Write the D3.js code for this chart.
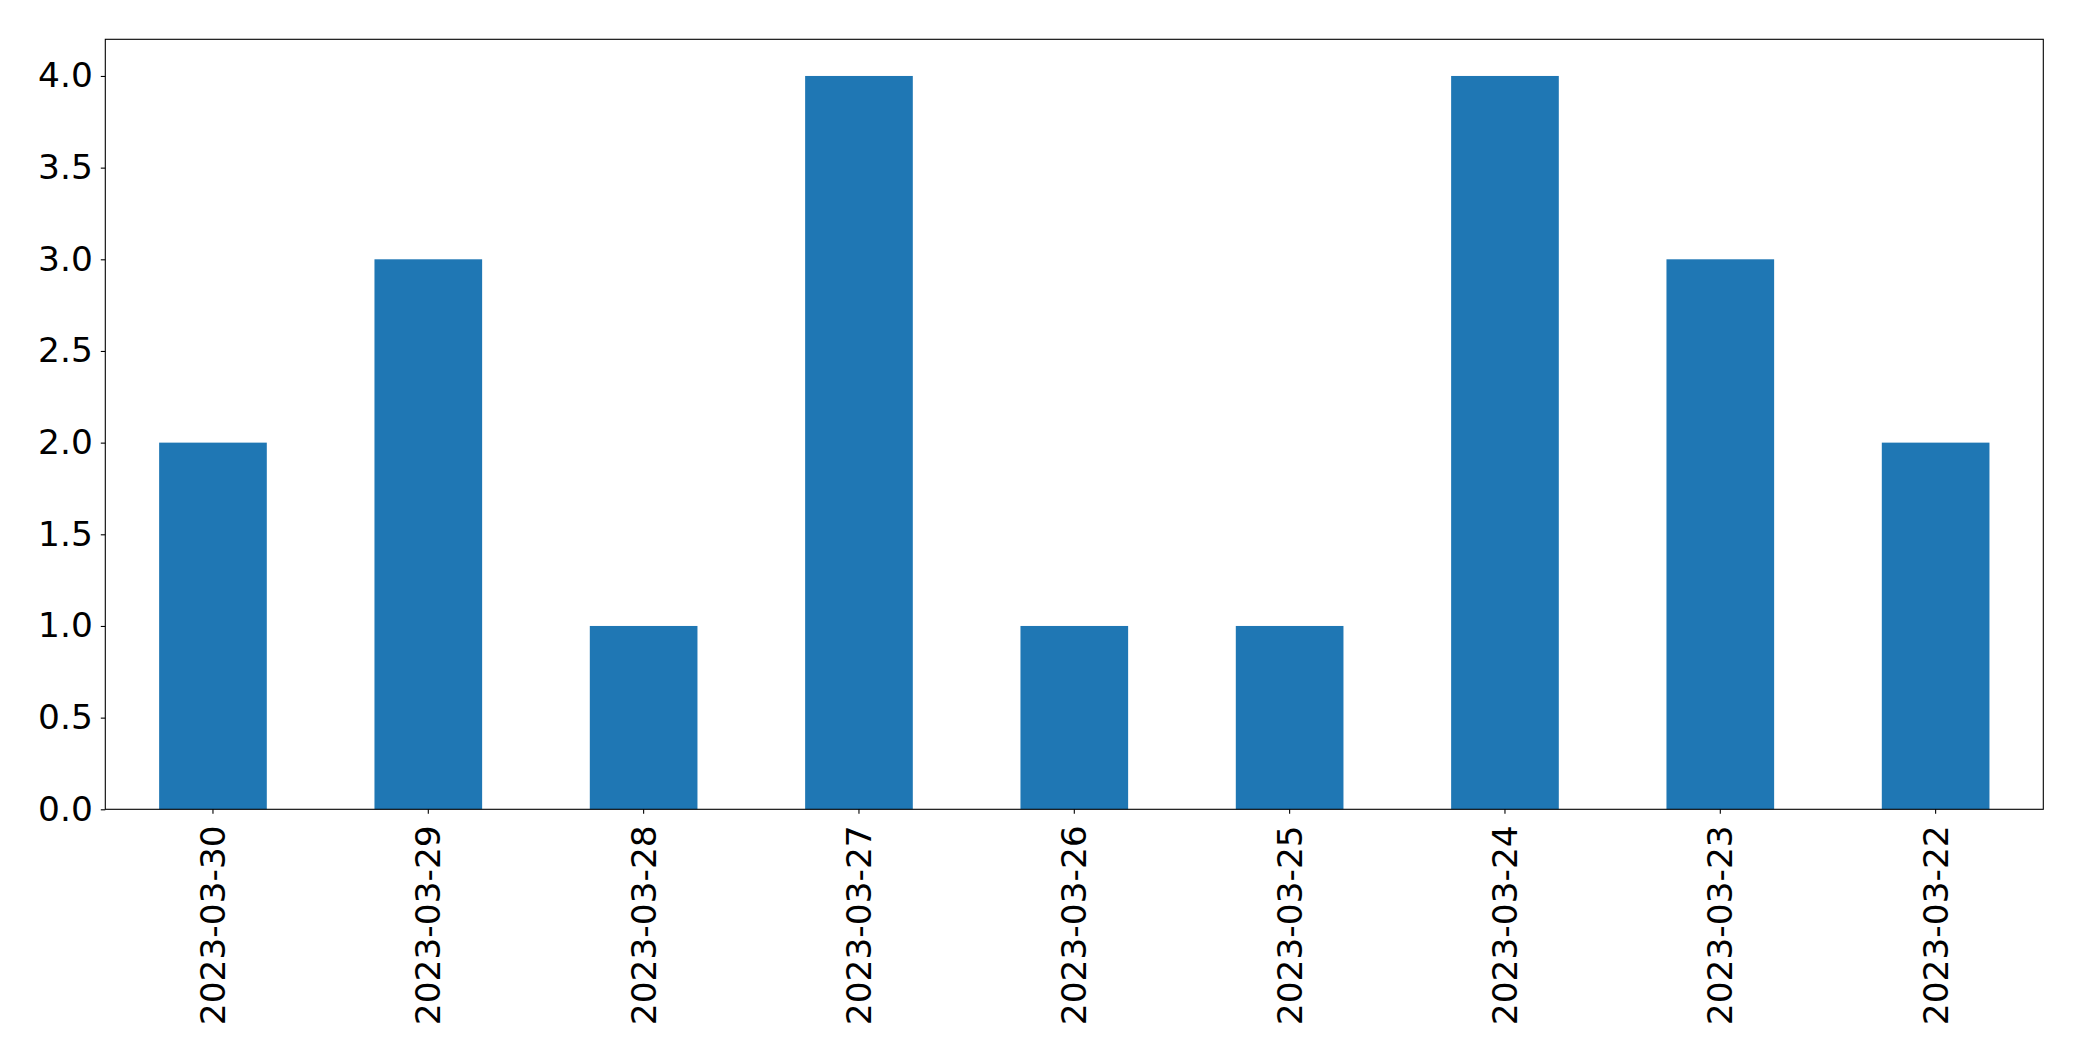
<!DOCTYPE html>
<html>
<head>
<meta charset="utf-8">
<script src="https://cdn.jsdelivr.net/npm/d3@7"></script>
<style>
html,body{margin:0;padding:0;background:#fff;}
svg{display:block;}
</style>
</head>
<body>
<script>
const categories = ["2023-03-30","2023-03-29","2023-03-28","2023-03-27","2023-03-26","2023-03-25","2023-03-24","2023-03-23","2023-03-22"];
const values = [2,3,1,4,1,1,4,3,2];
const yTicks = [0,0.5,1,1.5,2,2.5,3,3.5,4];

const W = 2082, H = 1061;
const m = {left:105.3, right:2082-2043.3, top:39.3, bottom:1061-809.3};
const svg = d3.select("body").append("svg").attr("width",W).attr("height",H);
const font = "DejaVu Sans";
const fs = "34.4px";

const x = d3.scaleBand().domain(categories).range([m.left, W-m.right]).paddingInner(0.5).paddingOuter(0.25);
const y = d3.scaleLinear().domain([0, 4.2]).range([H-m.bottom, m.top]);

svg.append("g").selectAll("rect").data(values).join("rect")
  .attr("x",(d,i)=>x(categories[i]))
  .attr("width",x.bandwidth())
  .attr("y",d=>y(d))
  .attr("height",d=>y(0)-y(d))
  .attr("fill","#1f77b4");

const yAxis = svg.append("g").attr("transform",`translate(${m.left},0)`)
  .call(d3.axisLeft(y).tickValues(yTicks).tickFormat(d3.format(".1f")).tickSize(4.5).tickPadding(8));
yAxis.select(".domain").remove();
yAxis.selectAll("text").attr("font-family",font).attr("font-size",fs).attr("fill","#000");
yAxis.selectAll("line").attr("stroke","#000").attr("stroke-width",1.1);

const xAxis = svg.append("g").attr("transform",`translate(0,${H-m.bottom})`)
  .call(d3.axisBottom(x).tickSize(4.5).tickPadding(0));
xAxis.select(".domain").remove();
xAxis.selectAll("line").attr("stroke","#000").attr("stroke-width",1.1);
xAxis.selectAll("text")
  .attr("font-family",font).attr("font-size",fs).attr("fill","#000")
  .attr("transform","rotate(-90)")
  .attr("text-anchor","end")
  .attr("x",-16).attr("y",0).attr("dy","0.35em");

svg.append("rect")
  .attr("x",m.left).attr("y",m.top)
  .attr("width",W-m.right-m.left).attr("height",H-m.bottom-m.top)
  .attr("fill","none").attr("stroke","#000").attr("stroke-width",1.1);
</script>
</body>
</html>
